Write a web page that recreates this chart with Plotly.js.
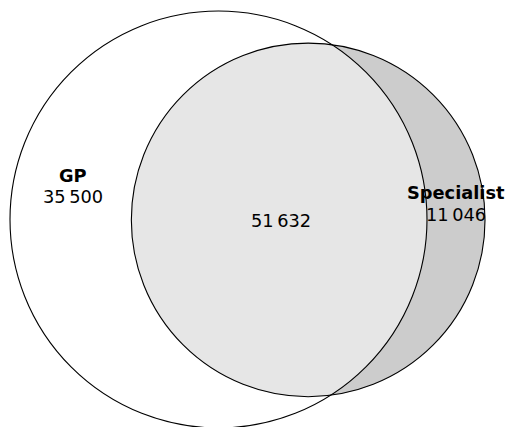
<!DOCTYPE html>
<html>
<head>
<meta charset="utf-8">
<script src="https://cdn.plot.ly/plotly-3.0.1.min.js"></script>
<style>html,body{margin:0;padding:0;background:#fff;}#chart{width:508px;height:427px;}</style>
</head>
<body>
<div id="chart"></div>
<script>
// Venn data
var setNames = ["GP", "Specialist"];
var onlyCounts = [35500, 11046];
var bothCount = 51632;
var regionColors = ["#ffffff", "#cccccc", "#e6e6e6"]; // GP only, Specialist only, both

function fmt(n) {
  return String(n).replace(/\B(?=(\d{3})+(?!\d))/g, "\u2009");
}

// area-proportional geometry
var areaA = onlyCounts[0] + bothCount;
var areaB = onlyCounts[1] + bothCount;
var r1 = 1;
var r2 = Math.sqrt(areaB / areaA);
var targetOverlap = Math.PI * bothCount / areaA;
function overlap(d) {
  if (d >= r1 + r2) return 0;
  if (d <= Math.abs(r1 - r2)) return Math.PI * Math.min(r1, r2) * Math.min(r1, r2);
  var a = r1 * r1 * Math.acos((d * d + r1 * r1 - r2 * r2) / (2 * d * r1));
  var b = r2 * r2 * Math.acos((d * d + r2 * r2 - r1 * r1) / (2 * d * r2));
  var c = 0.5 * Math.sqrt((-d + r1 + r2) * (d + r1 - r2) * (d - r1 + r2) * (d + r1 + r2));
  return a + b - c;
}
var lo = Math.abs(r1 - r2), hi = r1 + r2;
for (var i = 0; i < 80; i++) {
  var mid = (lo + hi) / 2;
  if (overlap(mid) > targetOverlap) lo = mid; else hi = mid;
}
var d = (lo + hi) / 2;
var c1 = [0, 0], c2 = [d, -0.002];

// intersection points
var xi = (d * d + r1 * r1 - r2 * r2) / (2 * d);
var yi = Math.sqrt(r1 * r1 - xi * xi);
var th1 = Math.atan2(yi, xi);          // on circle 1
var th2 = Math.atan2(yi, xi - d);      // on circle 2

function arc(cx, cy, r, a0, a1, n) {
  var xs = [], ys = [];
  for (var k = 0; k <= n; k++) {
    var t = a0 + (a1 - a0) * k / n;
    xs.push(cx + r * Math.cos(t)); ys.push(cy + r * Math.sin(t));
  }
  return [xs, ys];
}
// lens: arc of circle1 from -th1 to th1 then arc of circle2 from th2 to 2pi - th2
var a1 = arc(c1[0], c1[1], r1, -th1, th1, 200);
var a2 = arc(c2[0], c2[1], r2, th2, 2 * Math.PI - th2, 300);
var lensX = a1[0].concat(a2[0]), lensY = a1[1].concat(a2[1]);
// full circle 2
var full2 = arc(c2[0], c2[1], r2, 0, 2 * Math.PI, 500);

var W = 508, H = 427, scale = 208.5, cxPix = 218.5, cyPix = 219.5;
var xr = [-cxPix / scale, (W - cxPix) / scale];
var yr = [-(H - cyPix) / scale, cyPix / scale];

var traces = [
  {x: full2[0], y: full2[1], mode: "lines", fill: "toself", fillcolor: regionColors[1],
   line: {color: "rgba(0,0,0,0)", width: 0}, hoverinfo: "skip", showlegend: false},
  {x: lensX, y: lensY, mode: "lines", fill: "toself", fillcolor: regionColors[2],
   line: {color: "rgba(0,0,0,0)", width: 0}, hoverinfo: "skip", showlegend: false}
];

var shapes = [
  {type: "circle", xref: "x", yref: "y", x0: c1[0] - r1, x1: c1[0] + r1, y0: c1[1] - r1, y1: c1[1] + r1,
   line: {color: "#000", width: 1.1}, layer: "above"},
  {type: "circle", xref: "x", yref: "y", x0: c2[0] - r2, x1: c2[0] + r2, y0: c2[1] - r2, y1: c2[1] + r2,
   line: {color: "#000", width: 1.1}, layer: "above"}
];

function px(x) { return x / W; }
function py(y) { return 1 - y / H; }
var F = "DejaVu Sans";
var annotations = [
  {x: px(73), y: py(175), text: "<b>" + setNames[0] + "</b>"},
  {x: px(73), y: py(196), text: fmt(onlyCounts[0])},
  {x: px(281), y: py(220), text: fmt(bothCount)},
  {x: px(456), y: py(192), text: "<b>" + setNames[1] + "</b>"},
  {x: px(456), y: py(214), text: fmt(onlyCounts[1])}
].map(function (a) {
  a.xref = "paper"; a.yref = "paper"; a.showarrow = false;
  a.xanchor = "center"; a.yanchor = "middle";
  a.font = {family: F, size: 17.8, color: "#000"};
  return a;
});

var layout = {
  width: W, height: H,
  margin: {l: 0, r: 0, t: 0, b: 0},
  paper_bgcolor: "#fff", plot_bgcolor: "#fff",
  xaxis: {range: xr, visible: false, fixedrange: true},
  yaxis: {range: yr, visible: false, fixedrange: true},
  shapes: shapes,
  annotations: annotations,
  showlegend: false
};
Plotly.newPlot("chart", traces, layout, {staticPlot: true, displayModeBar: false});
</script>
</body>
</html>
